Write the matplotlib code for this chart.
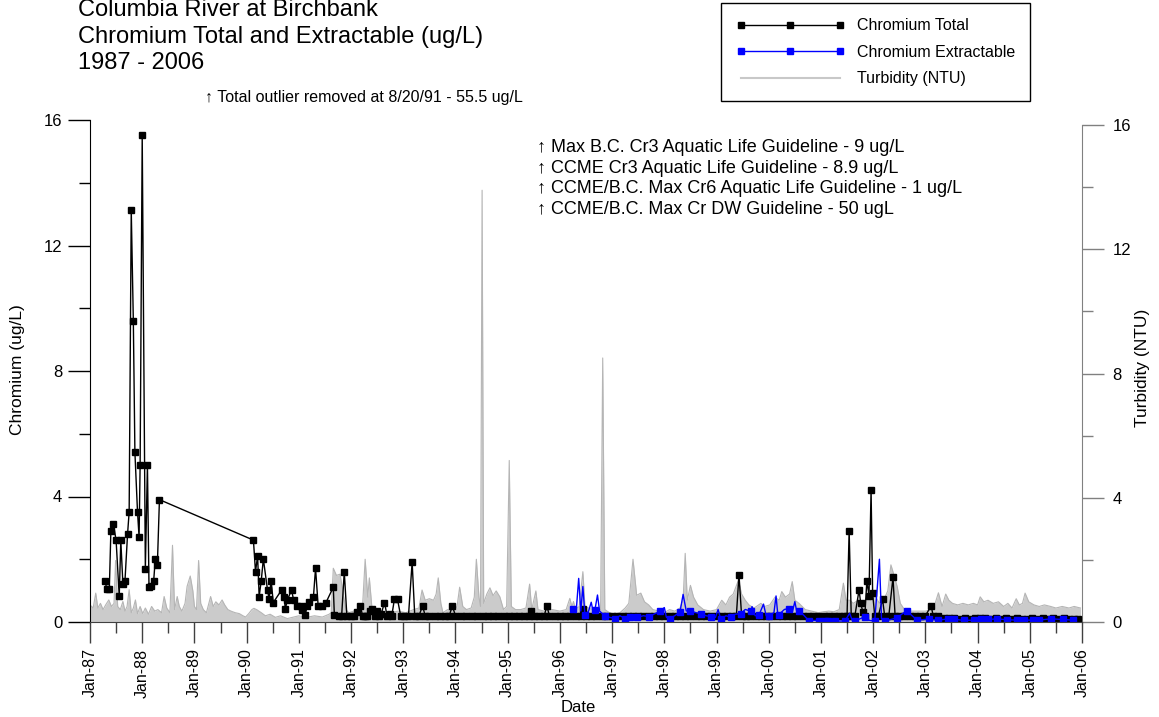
import matplotlib
matplotlib.use('Agg')
import matplotlib.pyplot as plt
from matplotlib.lines import Line2D
from matplotlib.ticker import FixedLocator

plt.rcParams['font.family'] = ['Liberation Sans', 'DejaVu Sans']

# ---- data (decimal years) ----
tot_years = [1987.29, 1987.32, 1987.37, 1987.40, 1987.45, 1987.50, 1987.56, 1987.59, 1987.63, 1987.67,
             1987.72, 1987.75, 1987.79, 1987.83, 1987.86, 1987.91, 1987.94, 1987.96, 1988.00, 1988.06,
             1988.10, 1988.13, 1988.17, 1988.22, 1988.25, 1988.29, 1988.33,
             1990.13, 1990.17, 1990.21, 1990.24, 1990.28, 1990.32, 1990.40, 1990.43, 1990.47, 1990.51,
             1990.67, 1990.72, 1990.74, 1990.78, 1990.86, 1990.90, 1990.96, 1991.04, 1991.07, 1991.12,
             1991.16, 1991.20, 1991.28, 1991.32, 1991.37, 1991.44, 1991.52, 1991.66,
             1991.68, 1991.76, 1991.82, 1991.87, 1991.92, 1992.00, 1992.05, 1992.11, 1992.18, 1992.22,
             1992.26, 1992.31, 1992.36, 1992.41, 1992.45, 1992.49, 1992.54, 1992.58, 1992.64, 1992.69,
             1992.74, 1992.78, 1992.83, 1992.89, 1992.95, 1993.02, 1993.10, 1993.17, 1993.22, 1993.30,
             1993.37, 1993.42, 1993.50, 1993.60, 1993.70, 1993.80, 1993.88, 1993.94, 1994.00, 1994.10,
             1994.20, 1994.32, 1994.42, 1994.52, 1994.62, 1994.72, 1994.82, 1994.92, 1995.02, 1995.12,
             1995.22, 1995.32, 1995.40, 1995.44, 1995.50, 1995.60, 1995.70, 1995.75, 1995.80, 1995.90,
             1996.00, 1996.10, 1996.20, 1996.30, 1996.40, 1996.44, 1996.50, 1996.60, 1996.70, 1996.80,
             1996.90, 1997.00, 1997.10, 1997.20, 1997.30, 1997.40, 1997.50, 1997.60, 1997.70, 1997.80,
             1997.90, 1998.00, 1998.10, 1998.20, 1998.30, 1998.40, 1998.50, 1998.60, 1998.70, 1998.80,
             1998.90, 1999.00, 1999.10, 1999.20, 1999.30, 1999.38, 1999.43, 1999.48, 1999.56, 1999.65,
             1999.75, 1999.85, 1999.95, 2000.05, 2000.15, 2000.25, 2000.35, 2000.45, 2000.55, 2000.65,
             2000.75, 2000.85, 2000.95, 2001.05, 2001.15, 2001.25, 2001.35, 2001.45, 2001.50, 2001.54,
             2001.58, 2001.65, 2001.73, 2001.76, 2001.80, 2001.84, 2001.88, 2001.92, 2001.96, 2001.99,
             2002.03, 2002.10, 2002.18, 2002.22, 2002.30, 2002.38, 2002.42, 2002.50, 2002.60, 2002.70,
             2002.80, 2002.90, 2003.00, 2003.11, 2003.15, 2003.25,
             2003.35, 2003.45, 2003.55, 2003.65, 2003.75, 2003.85, 2003.95, 2004.05, 2004.15, 2004.25,
             2004.35, 2004.45, 2004.55, 2004.65, 2004.75, 2004.85, 2004.95, 2005.05, 2005.15, 2005.25,
             2005.35, 2005.45, 2005.55, 2005.65, 2005.75, 2005.85, 2005.93]
tot_vals = [1.32, 1.04, 1.04, 2.91, 3.11, 2.60, 0.82, 2.60, 1.21, 1.32,
            2.82, 3.51, 13.12, 9.60, 5.41, 3.51, 2.71, 4.99, 15.51, 1.70,
            4.99, 1.12, 1.15, 1.32, 2.00, 1.81, 3.90,
            2.61, 1.60, 2.11, 0.81, 1.32, 2.01, 1.02, 0.73, 1.32, 0.62,
            1.02, 0.81, 0.41, 0.70, 1.02, 0.70, 0.51, 0.51, 0.38, 0.22,
            0.51, 0.65, 0.81, 1.71, 0.51, 0.51, 0.62, 1.11,
            0.22, 0.20, 0.20, 1.60, 0.20, 0.20, 0.20, 0.33, 0.51, 0.20,
            0.20, 0.20, 0.36, 0.41, 0.20, 0.34, 0.20, 0.27, 0.62, 0.20,
            0.27, 0.20, 0.72, 0.72, 0.20, 0.20, 0.20, 1.91, 0.20, 0.20,
            0.51, 0.20, 0.20, 0.20, 0.20, 0.20, 0.20, 0.51, 0.20, 0.20,
            0.20, 0.20, 0.20, 0.20, 0.20, 0.20, 0.20, 0.20, 0.20, 0.20,
            0.20, 0.20, 0.20, 0.35, 0.20, 0.20, 0.20, 0.51, 0.20, 0.20,
            0.20, 0.20, 0.20, 0.20, 0.20, 0.43, 0.20, 0.20, 0.20, 0.20,
            0.20, 0.20, 0.20, 0.20, 0.20, 0.20, 0.20, 0.20, 0.20, 0.20,
            0.20, 0.20, 0.20, 0.20, 0.20, 0.20, 0.20, 0.20, 0.20, 0.20,
            0.20, 0.20, 0.20, 0.20, 0.20, 0.20, 1.51, 0.20, 0.20, 0.20,
            0.20, 0.20, 0.20, 0.20, 0.20, 0.20, 0.20, 0.20, 0.20, 0.20,
            0.20, 0.20, 0.20, 0.20, 0.20, 0.20, 0.20, 0.20, 0.20, 2.91,
            0.20, 0.20, 1.02, 0.62, 0.33, 0.20, 1.32, 0.83, 4.21, 0.91,
            0.20, 0.20, 0.72, 0.20, 0.20, 1.42, 0.20, 0.20, 0.20, 0.20,
            0.20, 0.20, 0.20, 0.51, 0.20, 0.20,
            0.12, 0.14, 0.12, 0.10, 0.12, 0.10, 0.12, 0.14, 0.12, 0.10,
            0.12, 0.10, 0.12, 0.10, 0.12, 0.10, 0.10, 0.12, 0.10, 0.12,
            0.10, 0.12, 0.10, 0.12, 0.10, 0.10, 0.10]

# extractable: every sample drawn as a line, squares only on the routine samples
ext_years = [1996.25, 1996.31, 1996.36, 1996.40, 1996.44, 1996.48, 1996.55, 1996.60, 1996.64, 1996.67,
             1996.72, 1996.76, 1996.86, 1996.95, 1997.06, 1997.15, 1997.25, 1997.35, 1997.48, 1997.60,
             1997.71, 1997.80, 1997.92, 1998.00, 1998.04, 1998.10, 1998.20, 1998.30, 1998.36, 1998.42,
             1998.49, 1998.60, 1998.70, 1998.80, 1998.89, 1998.98, 1999.03, 1999.08, 1999.18, 1999.27,
             1999.36, 1999.46, 1999.55, 1999.66, 1999.68, 1999.74, 1999.81, 1999.90, 1999.95, 2000.00,
             2000.10, 2000.14, 2000.17, 2000.19, 2000.30, 2000.38, 2000.45, 2000.50, 2000.54, 2000.58,
             2000.68, 2000.77, 2000.87, 2000.97, 2001.07, 2001.14, 2001.26, 2001.46, 2001.55, 2001.60,
             2001.65, 2001.84, 2001.93, 2002.03, 2002.12, 2002.16, 2002.22, 2002.45, 2002.64, 2002.84,
             2003.06, 2003.25, 2003.44, 2003.54, 2003.74, 2003.93, 2004.07, 2004.20, 2004.38, 2004.57,
             2004.75, 2004.88, 2005.07, 2005.17, 2005.40, 2005.64, 2005.82]
ext_vals = [0.40, 0.30, 1.39, 0.35, 1.13, 0.21, 0.35, 0.63, 0.30, 0.38,
            0.86, 0.35, 0.19, 0.15, 0.11, 0.20, 0.11, 0.17, 0.15, 0.20,
            0.17, 0.25, 0.34, 0.46, 0.15, 0.11, 0.20, 0.32, 0.88, 0.35,
            0.36, 0.30, 0.26, 0.20, 0.17, 0.15, 0.40, 0.09, 0.20, 0.15,
            0.25, 0.26, 0.40, 0.34, 0.49, 0.20, 0.21, 0.57, 0.20, 0.19,
            0.30, 0.83, 0.30, 0.23, 0.40, 0.43, 0.30, 0.65, 0.30, 0.36,
            0.20, 0.04, 0.05, 0.04, 0.03, 0.04, 0.03, 0.03, 0.28, 0.05,
            0.03, 0.17, 0.05, 0.03, 2.00, 0.10, 0.03, 0.13, 0.36, 0.06,
            0.09, 0.06, 0.10, 0.09, 0.05, 0.06, 0.08, 0.08, 0.10, 0.07,
            0.06, 0.06, 0.06, 0.06, 0.10, 0.08, 0.06]
ext_marked = [1, 0, 0, 0, 0, 1, 0, 0, 0, 1,
              0, 0, 1, 0, 1, 0, 1, 1, 1, 0,
              1, 0, 1, 0, 0, 1, 0, 1, 0, 0,
              1, 0, 1, 0, 1, 0, 0, 1, 0, 1,
              0, 1, 0, 1, 0, 0, 1, 0, 0, 1,
              0, 0, 0, 1, 0, 1, 0, 0, 0, 1,
              0, 1, 0, 1, 1, 1, 1, 1, 0, 0,
              1, 1, 0, 1, 0, 0, 1, 1, 1, 1,
              1, 1, 1, 1, 1, 1, 1, 1, 1, 1,
              1, 1, 1, 1, 1, 1, 1]

turb_years = [1987.00, 1987.06, 1987.11, 1987.15, 1987.20, 1987.25, 1987.30, 1987.36, 1987.41, 1987.46,
              1987.49, 1987.53, 1987.58, 1987.63, 1987.67, 1987.71, 1987.75, 1987.79, 1987.83, 1987.87,
              1987.91, 1987.96, 1988.01, 1988.06, 1988.12, 1988.18, 1988.24, 1988.30, 1988.37, 1988.42,
              1988.47, 1988.53, 1988.58, 1988.62, 1988.67, 1988.71, 1988.76, 1988.82, 1988.86, 1988.92,
              1988.97, 1989.00, 1989.04, 1989.08, 1989.12, 1989.17, 1989.23, 1989.31, 1989.36, 1989.41,
              1989.47, 1989.53, 1989.58, 1989.64, 1989.70, 1989.78, 1989.86, 1989.93, 1989.98, 1990.04,
              1990.10, 1990.14, 1990.20, 1990.28, 1990.36, 1990.45, 1990.55, 1990.65, 1990.78, 1990.90,
              1991.00, 1991.15, 1991.30, 1991.45, 1991.58, 1991.62, 1991.66, 1991.72, 1991.79, 1991.84,
              1991.90, 1991.96, 1992.05, 1992.15, 1992.22, 1992.27, 1992.32, 1992.35, 1992.40, 1992.47,
              1992.60, 1992.75, 1992.90, 1993.05, 1993.20, 1993.30, 1993.36, 1993.42, 1993.50, 1993.58,
              1993.63, 1993.67, 1993.72, 1993.76, 1993.85, 1993.95, 1994.03, 1994.08, 1994.14, 1994.21,
              1994.30, 1994.36, 1994.40, 1994.45, 1994.48, 1994.51, 1994.54, 1994.60, 1994.66, 1994.72,
              1994.78, 1994.85, 1994.92, 1994.98, 1995.03, 1995.07, 1995.15, 1995.25, 1995.35, 1995.42,
              1995.46, 1995.54, 1995.58, 1995.70, 1995.85, 1996.00, 1996.12, 1996.19, 1996.23, 1996.26,
              1996.30, 1996.37, 1996.44, 1996.48, 1996.55, 1996.62, 1996.72, 1996.78, 1996.82, 1996.86,
              1996.95, 1997.05, 1997.15, 1997.25, 1997.32, 1997.40, 1997.45, 1997.47, 1997.55, 1997.62,
              1997.70, 1997.78, 1997.90, 1998.00, 1998.10, 1998.20, 1998.30, 1998.36, 1998.40, 1998.44,
              1998.50, 1998.56, 1998.64, 1998.75, 1998.88, 1999.00, 1999.10, 1999.18, 1999.25, 1999.32,
              1999.42, 1999.48, 1999.55, 1999.62, 1999.72, 1999.85, 1999.92, 2000.02, 2000.12, 2000.20,
              2000.25, 2000.32, 2000.40, 2000.45, 2000.50, 2000.58, 2000.70, 2000.82, 2000.95, 2001.05,
              2001.15, 2001.25, 2001.35, 2001.43, 2001.48, 2001.55, 2001.62, 2001.72, 2001.80, 2001.88,
              2001.95, 2002.05, 2002.12, 2002.20, 2002.28, 2002.34, 2002.40, 2002.46, 2002.52, 2002.60,
              2002.70, 2002.85, 2003.00, 2003.15, 2003.25, 2003.32, 2003.39, 2003.45, 2003.52, 2003.62,
              2003.72, 2003.82, 2003.92, 2004.00, 2004.05, 2004.12, 2004.20, 2004.30, 2004.40, 2004.50,
              2004.58, 2004.66, 2004.74, 2004.80, 2004.86, 2004.91, 2004.98, 2005.08, 2005.18, 2005.28,
              2005.40, 2005.50, 2005.62, 2005.75, 2005.85, 2005.97]
turb_ntu = [0.55, 0.45, 0.93, 0.45, 0.60, 0.40, 0.55, 0.71, 0.50, 0.60,
            1.98, 0.50, 0.40, 0.66, 0.35, 0.50, 1.04, 0.30, 0.45, 0.71,
            0.27, 0.50, 0.27, 0.45, 0.25, 0.50, 0.35, 0.40, 0.30, 0.82,
            0.45, 0.30, 2.47, 0.40, 0.82, 0.50, 0.35, 0.60, 1.15, 1.48,
            1.00, 0.50, 0.40, 1.98, 0.60, 0.40, 0.30, 0.82, 0.50, 0.65,
            0.55, 0.71, 0.55, 0.40, 0.35, 0.30, 0.27, 0.20, 0.16, 0.27,
            0.40, 0.44, 0.39, 0.30, 0.20, 0.25, 0.15, 0.20, 0.11, 0.16,
            0.20, 0.15, 0.20, 0.16, 0.25, 0.30, 1.73, 1.50, 1.54, 1.00,
            0.39, 0.30, 0.35, 0.40, 0.50, 2.02, 0.80, 1.42, 0.45, 0.30,
            0.35, 0.30, 0.35, 0.30, 0.40, 0.45, 1.03, 0.70, 0.75, 0.70,
            0.90, 1.42, 0.60, 0.30, 0.40, 0.35, 0.50, 1.12, 0.50, 0.40,
            0.45, 0.80, 2.02, 0.80, 0.50, 13.90, 0.60, 0.90, 1.10, 0.85,
            1.00, 0.81, 0.40, 0.50, 5.20, 0.50, 0.40, 0.40, 0.45, 1.22,
            0.40, 1.00, 0.40, 0.35, 0.40, 0.35, 0.40, 0.76, 0.50, 0.66,
            0.40, 0.50, 1.62, 0.50, 0.45, 0.40, 0.35, 0.40, 8.50, 0.40,
            0.30, 0.25, 0.30, 0.45, 0.60, 2.02, 1.20, 0.86, 0.93, 0.65,
            0.55, 0.40, 0.35, 0.30, 0.40, 0.35, 0.45, 0.70, 2.21, 0.70,
            1.18, 0.80, 0.55, 0.40, 0.35, 0.40, 0.70, 0.55, 0.80, 0.90,
            1.35, 0.90, 0.70, 0.55, 0.45, 0.60, 0.50, 0.55, 0.80, 0.70,
            0.98, 0.80, 0.90, 1.30, 0.70, 0.60, 0.40, 0.35, 0.30, 0.33,
            0.35, 0.33, 0.40, 1.25, 0.70, 0.70, 0.60, 0.71, 0.60, 0.80,
            0.70, 0.80, 0.60, 0.70, 1.00, 1.84, 1.50, 1.14, 0.60, 0.40,
            0.35, 0.35, 0.35, 0.40, 0.94, 0.50, 0.90, 0.70, 0.60, 0.55,
            0.60, 0.55, 0.60, 0.55, 0.81, 0.65, 0.70, 0.60, 0.65, 0.50,
            0.60, 0.45, 0.75, 0.55, 0.60, 0.93, 0.65, 0.55, 0.50, 0.55,
            0.50, 0.45, 0.50, 0.45, 0.50, 0.45]

tick_years = list(range(1987, 2007))
tick_labels = ['Jan-87', 'Jan-88', 'Jan-89', 'Jan-90', 'Jan-91', 'Jan-92', 'Jan-93', 'Jan-94',
               'Jan-95', 'Jan-96', 'Jan-97', 'Jan-98', 'Jan-99', 'Jan-00', 'Jan-01', 'Jan-02',
               'Jan-03', 'Jan-04', 'Jan-05', 'Jan-06']
guidelines = ['Max B.C. Cr3 Aquatic Life Guideline - 9 ug/L',
              'CCME Cr3 Aquatic Life Guideline - 8.9 ug/L',
              'CCME/B.C. Max Cr6 Aquatic Life Guideline - 1 ug/L',
              'CCME/B.C. Max Cr DW Guideline - 50 ugL']

W, H = 1159, 717
fig = plt.figure(figsize=(W / 100, H / 100), dpi=100)
ax = fig.add_axes([90 / W, 1 - 622 / H, (1082 - 90) / W, (622 - 120) / H])
ax2 = ax.twinx()
ax.set_zorder(ax2.get_zorder() + 1)
ax.patch.set_visible(False)

# turbidity as grey area on the right axis
ax2.fill_between(turb_years, turb_ntu, color='#cbcbcb', lw=0)
ax2.plot(turb_years, turb_ntu, color='#b5b5b5', lw=0.8)

ax.plot(tot_years, tot_vals, '-s', color='black', lw=1, ms=5)
marks = [i for i, m in enumerate(ext_marked) if m]
ax.plot(ext_years, ext_vals, '-s', color='blue', lw=1, ms=5, markevery=marks)

ax.set_xlim(1987, 2006)
ax.set_ylim(0, 16)
ax2.set_ylim(0, 16 * 502 / 497)

ax.set_xticks(tick_years)
ax.set_xticklabels(tick_labels, rotation=90, fontsize=11.5)
ax.xaxis.set_minor_locator(FixedLocator([y + 0.5 for y in tick_years[:-1]]))
ax.set_yticks([0, 4, 8, 12, 16])
ax.yaxis.set_minor_locator(FixedLocator([2, 6, 10, 14]))
ax2.set_yticks([0, 4, 8, 12, 16])
ax2.yaxis.set_minor_locator(FixedLocator([2, 6, 10, 14]))
ax.tick_params(axis='y', which='major', length=16, width=1, labelsize=12, pad=4)
ax.tick_params(axis='y', which='minor', length=8, width=1)
ax.tick_params(axis='x', which='major', length=15, width=1, colors='#404040', labelcolor='black', pad=4)
ax.tick_params(axis='x', which='minor', length=8, width=1, colors='#404040')
ax2.tick_params(axis='y', which='major', length=16, width=1, colors='#808080', labelcolor='black',
                labelsize=12, pad=6)
ax2.tick_params(axis='y', which='minor', length=8, width=1, colors='#808080')

for s in ['top', 'right']:
    ax.spines[s].set_visible(False)
for s in ['top', 'left', 'bottom']:
    ax2.spines[s].set_visible(False)
ax2.spines['right'].set_color('#808080')
ax2.spines['right'].set_bounds(0, 16)
ax.spines['bottom'].set_color('#404040')

fig.text(18 / W, 1 - 370 / H, 'Chromium (ug/L)', rotation=90, ha='center', va='center', fontsize=12.5)
fig.text(1143 / W, 1 - 368 / H, 'Turbidity (NTU)', rotation=90, ha='center', va='center', fontsize=12.5)
fig.text(578 / W, 1 - 708 / H, 'Date', ha='center', va='center', fontsize=12)

title_lines = ['Columbia River at Birchbank', 'Chromium Total and Extractable (ug/L)', '1987 - 2006']
for i, line in enumerate(title_lines):
    fig.text(78 / W, 1 - (16 + 26.7 * i) / H, line, fontsize=17, va='baseline')

fig.text(205 / W, 1 - 102 / H, '\u2191 Total outlier removed at 8/20/91 - 55.5 ug/L', fontsize=11.5,
         va='baseline')
for i, g in enumerate(guidelines):
    fig.text(537 / W, 1 - (152 + 20.7 * i) / H, '\u2191 ' + g, fontsize=13, va='baseline')

handles = [Line2D([], [], color='black', marker='s', ms=4.5, lw=1),
           Line2D([], [], color='blue', marker='s', ms=4.5, lw=1),
           Line2D([], [], color='#c8c8c8', lw=1.5)]
leg = fig.legend(handles, ['Chromium Total', 'Chromium Extractable', 'Turbidity (NTU)'],
                 loc='upper left', bbox_to_anchor=(721 / W, 1 - 3 / H), borderaxespad=0,
                 numpoints=3, handlelength=6.8, handletextpad=0.75, labelspacing=0.72,
                 borderpad=0.95, fancybox=False, edgecolor='black', framealpha=1, fontsize=11.5)
leg.get_frame().set_linewidth(1)

fig.savefig('out.png', dpi=100)
